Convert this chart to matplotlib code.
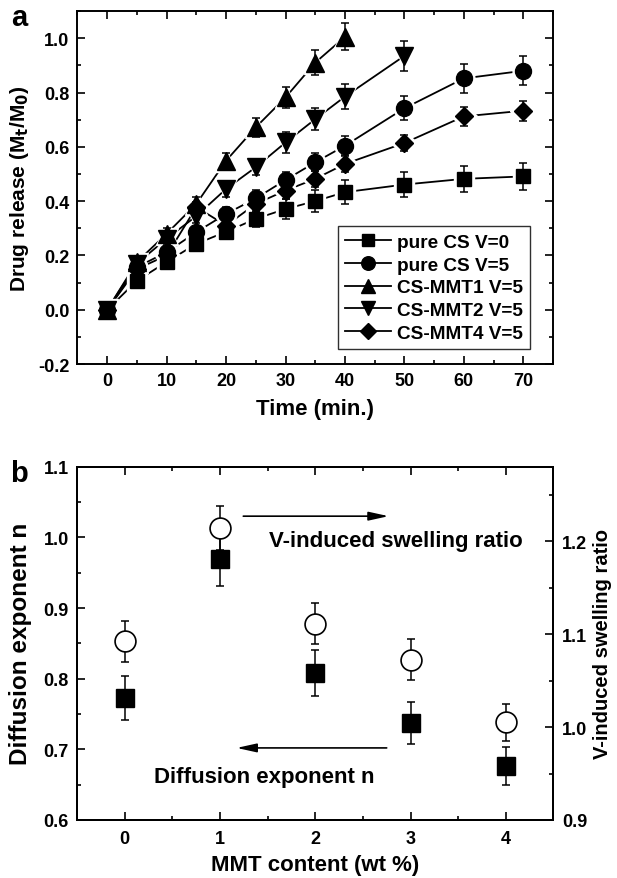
import matplotlib
matplotlib.use("Agg")
import matplotlib.pyplot as plt
from matplotlib.lines import Line2D
from matplotlib.ticker import MultipleLocator

plt.rcParams["font.family"] = ["Liberation Sans", "DejaVu Sans"]
plt.rcParams["font.weight"] = "bold"

# ---- panel a: drug release vs time ----
time_full = [0, 5, 10, 15, 20, 25, 30, 35, 40, 50, 60, 70]
time_mmt1 = [0, 5, 10, 15, 20, 25, 30, 35, 40]
time_mmt2 = [0, 5, 10, 15, 20, 25, 30, 35, 40, 50]

cs_v0 = [0.0, 0.107, 0.176, 0.243, 0.287, 0.335, 0.371, 0.400, 0.433, 0.461, 0.482, 0.491]
cs_v0_err = [0.01, 0.015, 0.02, 0.02, 0.025, 0.03, 0.035, 0.04, 0.043, 0.046, 0.048, 0.049]

cs_v5 = [0.0, 0.157, 0.212, 0.286, 0.353, 0.41, 0.478, 0.543, 0.604, 0.742, 0.852, 0.88]
cs_v5_err = [0.01, 0.015, 0.02, 0.02, 0.025, 0.03, 0.03, 0.033, 0.035, 0.044, 0.052, 0.053]

mmt1_v5 = [0.0, 0.176, 0.28, 0.39, 0.549, 0.672, 0.782, 0.91, 1.005]
mmt1_v5_err = [0.01, 0.015, 0.02, 0.025, 0.03, 0.035, 0.04, 0.045, 0.05]

mmt2_v5 = [0.0, 0.17, 0.262, 0.345, 0.445, 0.525, 0.616, 0.702, 0.785, 0.935]
mmt2_v5_err = [0.01, 0.015, 0.02, 0.025, 0.03, 0.03, 0.04, 0.04, 0.045, 0.055]

mmt4_v5 = [0.0, 0.15, 0.2, 0.378, 0.31, 0.39, 0.439, 0.482, 0.537, 0.614, 0.712, 0.733]
mmt4_v5_err = [0.01, 0.015, 0.02, 0.02, 0.025, 0.03, 0.03, 0.03, 0.03, 0.03, 0.035, 0.037]

series = [
    ("pure CS V=0", time_full, cs_v0, cs_v0_err, "s", 10.5),
    ("pure CS V=5", time_full, cs_v5, cs_v5_err, "o", 11.5),
    ("CS-MMT1 V=5", time_mmt1, mmt1_v5, mmt1_v5_err, "^", 12.5),
    ("CS-MMT2 V=5", time_mmt2, mmt2_v5, mmt2_v5_err, "v", 12.5),
    ("CS-MMT4 V=5", time_full, mmt4_v5, mmt4_v5_err, "D", 9.5),
]

# ---- panel b: diffusion exponent / swelling ratio vs MMT ----
mmt_content = [0, 1, 2, 3, 4]
diff_n = [0.773, 0.969, 0.808, 0.737, 0.676]
diff_n_err = [0.031, 0.038, 0.033, 0.030, 0.027]
swell = [1.092, 1.214, 1.111, 1.0725, 1.005]
swell_err = [0.022, 0.024, 0.022, 0.022, 0.020]

fig = plt.figure(figsize=(6.17, 8.79), dpi=100)
ax_a = fig.add_axes([0.1256, 0.5847, 0.7707, 0.4016])
ax_b = fig.add_axes([0.1248, 0.0660, 0.7722, 0.4019])


def style_axis(ax, **kw):
    for sp in ax.spines.values():
        sp.set_linewidth(1.4)
    ax.tick_params(which="both", direction="in", width=1.2, labelsize=13, **kw)
    ax.tick_params(which="major", length=5.5, pad=6)
    ax.tick_params(which="minor", length=3)


# panel a
for label, t, y, e, m, ms in series:
    ax_a.plot(t, y, color="black", lw=1.3, zorder=1)
    ax_a.plot(t, y, ls="none", marker=m, ms=ms + 3.5, mfc="white", mec="white", zorder=2)
    ax_a.errorbar(t, y, yerr=e, fmt="none", ecolor="black", elinewidth=1.1,
                  capsize=2.6, capthick=1.1, zorder=2.5)
    ax_a.plot(t, y, ls="none", marker=m, ms=ms, color="black", zorder=3)

handles = [Line2D([], [], color="black", lw=1.3, marker=m, ms=ms * 0.85)
           for _, _, _, _, m, ms in series]
leg = ax_a.legend(handles, [s[0] for s in series], loc="lower right",
                  bbox_to_anchor=(0.952, 0.042), borderaxespad=0, fancybox=False,
                  framealpha=1, edgecolor="#303030", fontsize=13.7, handlelength=2.4,
                  handletextpad=0.3, labelspacing=0.28, borderpad=0.4)
leg.get_frame().set_linewidth(1.0)

ax_a.set_xlim(-5, 75)
ax_a.set_ylim(-0.2, 1.1)
ax_a.xaxis.set_major_locator(MultipleLocator(10))
ax_a.xaxis.set_minor_locator(MultipleLocator(5))
ax_a.yaxis.set_major_locator(MultipleLocator(0.2))
ax_a.yaxis.set_minor_locator(MultipleLocator(0.1))
ax_a.yaxis.set_major_formatter(plt.FuncFormatter(lambda v, p: f"{v:.1f}"))
style_axis(ax_a, top=True, right=True)
ax_a.set_xlabel("Time (min.)", fontsize=16, fontweight="bold", labelpad=6)
ax_a.set_ylabel("Drug release (M$_\\mathbf{t}$/M$_\\mathbf{0}$)", fontsize=15,
                fontweight="bold")
ax_a.yaxis.set_label_coords(-0.097, 0.5)

# panel b
ax_b.errorbar(mmt_content, diff_n, yerr=diff_n_err, fmt="none", ecolor="black",
              elinewidth=1.1, capsize=2.8, capthick=1.1, zorder=2)
ax_b.plot(mmt_content, diff_n, ls="none", marker="s", ms=13.5, color="black", zorder=3)
ax_b.set_xlim(-0.5, 4.5)
ax_b.set_ylim(0.6, 1.1)
ax_b.xaxis.set_major_locator(MultipleLocator(1))
ax_b.xaxis.set_minor_locator(MultipleLocator(0.5))
ax_b.yaxis.set_major_locator(MultipleLocator(0.1))
ax_b.yaxis.set_minor_locator(MultipleLocator(0.05))
ax_b.yaxis.set_major_formatter(plt.FuncFormatter(lambda v, p: f"{v:.1f}"))
style_axis(ax_b, top=True)
ax_b.tick_params(axis="x", which="major", pad=7)
ax_b.set_xlabel("MMT content (wt %)", fontsize=16, fontweight="bold", labelpad=5)
ax_b.set_ylabel("Diffusion exponent n", fontsize=17.5, fontweight="bold")
ax_b.yaxis.set_label_coords(-0.094, 0.5)

ax_b2 = ax_b.twinx()
ax_b2.errorbar(mmt_content, swell, yerr=swell_err, fmt="none", ecolor="black",
               elinewidth=1.1, capsize=2.8, capthick=1.1, zorder=2)
ax_b2.plot(mmt_content, swell, ls="none", marker="o", ms=15, mfc="white",
           mec="black", mew=1.2, zorder=3)
ax_b2.set_ylim(0.9, 1.28)
ax_b2.yaxis.set_major_locator(MultipleLocator(0.1))
ax_b2.yaxis.set_minor_locator(MultipleLocator(0.05))
ax_b2.yaxis.set_major_formatter(plt.FuncFormatter(lambda v, p: f"{v:.1f}"))
style_axis(ax_b2)
ax_b2.set_ylabel("V-induced swelling ratio", fontsize=14.5, fontweight="bold")
ax_b2.yaxis.set_label_coords(1.082, 0.5)

arrow = dict(arrowstyle="-|>,head_length=1.0,head_width=0.22", color="black",
             lw=1.2, mutation_scale=12, shrinkA=0, shrinkB=0)
ax_b.annotate("", xy=(2.77, 1.030), xytext=(1.245, 1.030), arrowprops=arrow)
ax_b.annotate("", xy=(1.175, 0.702), xytext=(2.75, 0.702), arrowprops=arrow)
ax_b.text(1.51, 0.996, "V-induced swelling ratio", fontsize=16, fontweight="bold",
          ha="left", va="center")
ax_b.text(0.305, 0.662, "Diffusion exponent n", fontsize=16, fontweight="bold",
          ha="left", va="center")

fig.text(0.018, 0.970, "a", fontsize=21, fontweight="bold")
fig.text(0.016, 0.452, "b", fontsize=21, fontweight="bold")

fig.savefig("out.png", dpi=100)
